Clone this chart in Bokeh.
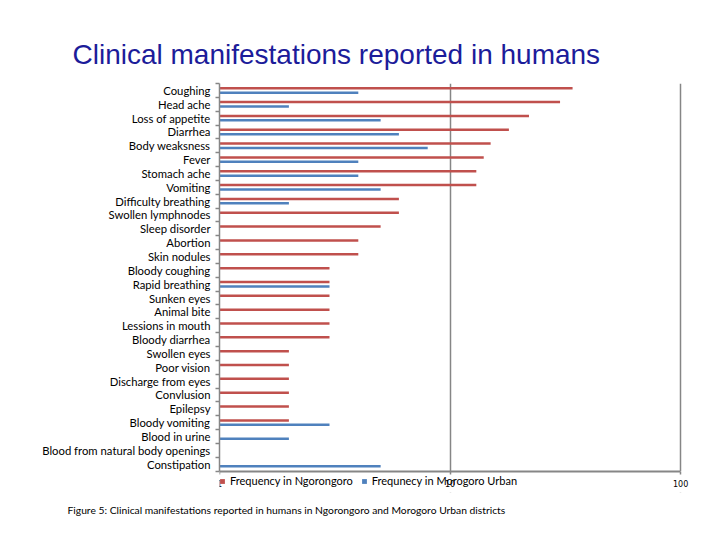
import numpy as np
from bokeh.plotting import figure
from bokeh.models import (Range1d, FixedTicker, ColumnDataSource, Legend,
                          LegendItem, Title, BasicTickFormatter, BoxAnnotation)
from bokeh.transform import dodge
from bokeh.embed import file_html
from bokeh.resources import INLINE

symptoms = [
    "Coughing", "Head ache", "Loss of appetite", "Diarrhea", "Body weaksness",
    "Fever", "Stomach ache", "Vomiting", "Difficulty breathing",
    "Swollen lymphnodes", "Sleep disorder", "Abortion", "Skin nodules",
    "Bloody coughing", "Rapid breathing", "Sunken eyes", "Animal bite",
    "Lessions in mouth", "Bloody diarrhea", "Swollen eyes", "Poor vision",
    "Discharge from eyes", "Convlusion", "Epilepsy", "Bloody vomiting",
    "Blood in urine", "Blood from natural body openings", "Constipation",
]
ngorongoro = [34, 30, 22, 18, 15, 14, 13, 13, 6, 6, 5, 4, 4, 3, 3, 3, 3, 3, 3,
              2, 2, 2, 2, 2, 2, None, None, None]
morogoro = [4, 2, 5, 6, 8, 4, 4, 5, 2, None, None, None, None, None, 3, None,
            None, None, None, None, None, None, None, None, 3, 2, None, 5]
x_ticks = [1, 10, 100]

N = len(symptoms)
ypos = [N - 1 - i for i in range(N)]
src = ColumnDataSource(dict(
    y=ypos,
    name=symptoms,
    ngo=np.array([np.nan if v is None else v for v in ngorongoro], dtype=float),
    mor=np.array([np.nan if v is None else v for v in morogoro], dtype=float),
))

RED = "#C0504D"
BLUE = "#4F81BD"
GRAY = "#868686"
LABEL_FONT = "Lato"

# extra room under the category axis holds the legend row (inside the frame),
# a little room right of 100 keeps its tick label unclipped
LEGEND_ROOM = 1.55
y_bottom = -0.5
x_min, x_max = 1, 100
p = figure(frame_width=481, frame_height=409, x_axis_type="log",
           x_range=Range1d(x_min, 122),
           y_range=Range1d(y_bottom - LEGEND_ROOM, N - 0.5),
           output_backend="svg", toolbar_location=None,
           min_border_left=219, min_border_right=12,
           min_border_top=83, min_border_bottom=40,
           title="Clinical manifestations reported in humans")
p.outline_line_color = None
p.background_fill_color = "white"
p.border_fill_color = "white"

# title
p.title.text_font = "Liberation Sans"
p.title.text_font_size = "28px"
p.title.text_font_style = "normal"
p.title.text_color = "#1c1c9a"
p.title.align = "left"
p.title.offset = -147
p.title.standoff = 27

r_red = p.hbar(y=dodge("y", 0.16), left=x_min, right="ngo", height=0.18,
               source=src, fill_color=RED, line_color=None)
r_blue = p.hbar(y=dodge("y", -0.16), left=x_min, right="mor", height=0.18,
                source=src, fill_color=BLUE, line_color=None)

# grid lines stop at the category axis
p.xgrid.ticker = FixedTicker(ticks=x_ticks)
p.xgrid.grid_line_color = GRAY
p.xgrid.grid_line_width = 1.5
p.ygrid.grid_line_color = None
p.add_layout(BoxAnnotation(top=y_bottom, fill_color="white", fill_alpha=1,
                           line_color=None, level="glyph"))

# x axis sits at the bottom of the categories
xa = p.xaxis[0]
xa.fixed_location = y_bottom
xa.bounds = (x_min, x_max)
xa.ticker = FixedTicker(ticks=x_ticks, minor_ticks=[])
xa.formatter = BasicTickFormatter()
xa.axis_line_color = GRAY
xa.axis_line_width = 2
xa.major_tick_line_color = GRAY
xa.major_tick_line_width = 1.5
xa.major_tick_out = 3
xa.major_tick_in = 0
xa.minor_tick_line_color = None
xa.major_label_standoff = 6
xa.major_label_text_font = "DejaVu Sans"
xa.major_label_text_font_size = "8px"
xa.major_label_text_color = "black"

# y axis: labels at category centres, ticks at category boundaries
ya = p.yaxis[0]
ya.bounds = (y_bottom, N - 0.5)
ya.ticker = FixedTicker(ticks=ypos, minor_ticks=[k - 0.5 for k in range(N + 1)])
ya.major_label_overrides = {y: s for y, s in zip(ypos, symptoms)}
ya.major_tick_line_color = None
ya.major_tick_out = 0
ya.major_tick_in = 0
ya.minor_tick_line_color = GRAY
ya.minor_tick_line_width = 1.5
ya.minor_tick_out = 4
ya.minor_tick_in = 0
ya.axis_line_color = GRAY
ya.axis_line_width = 1.5
ya.major_label_standoff = 5
ya.major_label_text_font = LABEL_FONT
ya.major_label_text_font_size = "11.3px"
ya.major_label_text_color = "black"

legend = Legend(items=[
    LegendItem(label="Frequency in Ngorongoro", renderers=[r_red]),
    LegendItem(label="Frequnecy in Morogoro Urban", renderers=[r_blue]),
], location=(0, 5), orientation="horizontal")
legend.glyph_width = 6
legend.glyph_height = 6
legend.label_height = 12
legend.label_standoff = 5
legend.spacing = 8
legend.padding = 0
legend.margin = 0
legend.border_line_color = None
legend.background_fill_alpha = 0
legend.label_text_font = LABEL_FONT
legend.label_text_font_size = "11px"
legend.label_text_color = "black"
p.add_layout(legend)

caption = Title(text="Figure 5: Clinical manifestations reported in humans in Ngorongoro and Morogoro Urban  districts",
                align="left", offset=-152, standoff=18,
                text_font=LABEL_FONT, text_font_size="10.3px",
                text_font_style="normal", text_color="black")
p.add_layout(caption, "below")

open("out.html", "w").write(file_html(p, INLINE))
